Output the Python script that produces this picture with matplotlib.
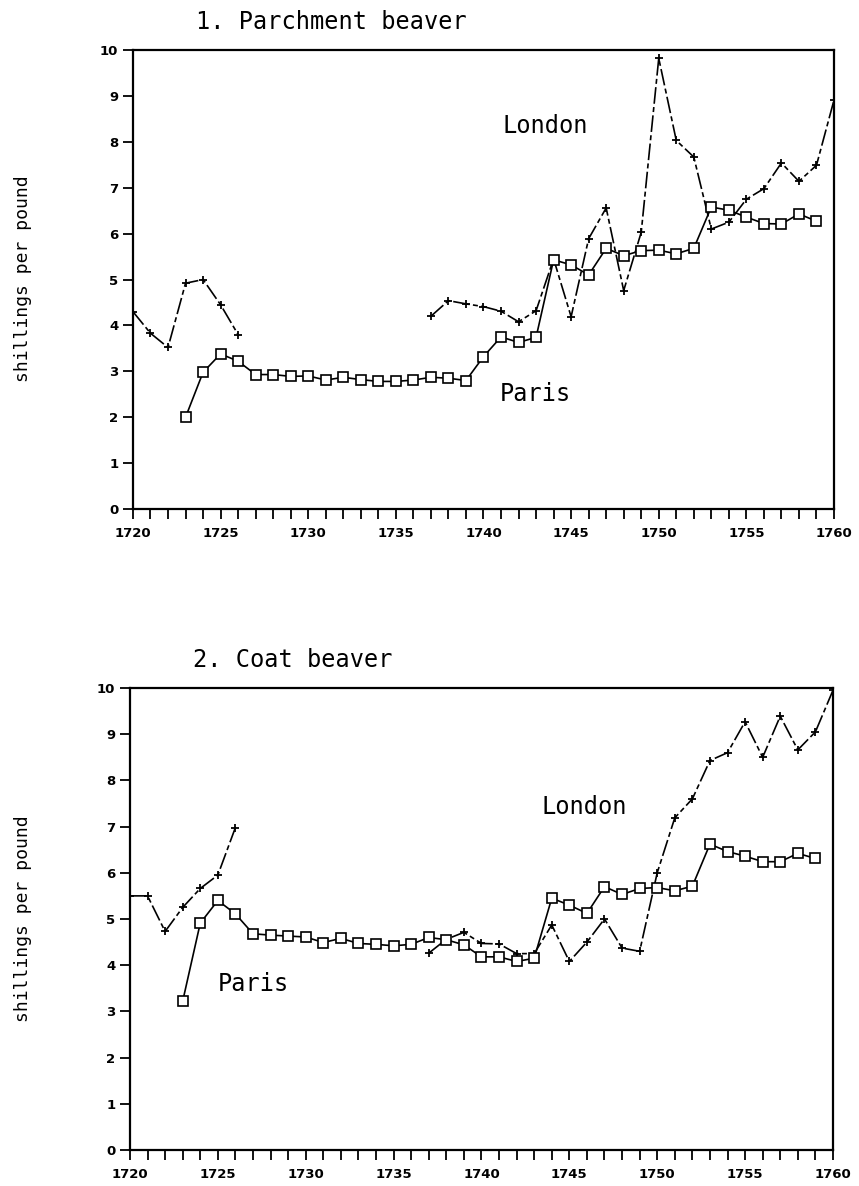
import matplotlib.pyplot as plt
import numpy as np

nan = np.nan
years = np.arange(1720, 1761)

# 1. Parchment beaver
parch_london = [4.3, 3.83, 3.52, 4.92, 5.0, 4.45, 3.8,
                nan, nan, nan, nan, nan, nan, nan, nan, nan, nan,
                4.2, 4.54, 4.47, 4.41, 4.31, 4.08, 4.32, 5.45, 4.19, 5.89, 6.56, 4.76, 6.03,
                9.82, 8.03, 7.67, 6.1, 6.25, 6.75, 6.98, 7.54, 7.14, 7.49, 8.91]
parch_paris = [nan, nan, nan, 2.0, 2.98, 3.38, 3.22, 2.93, 2.93, 2.89, 2.9, 2.81, 2.87, 2.82,
               2.78, 2.78, 2.81, 2.87, 2.85, 2.8, 3.32, 3.75, 3.63, 3.74, 5.43, 5.32, 5.1,
               5.68, 5.52, 5.63, 5.64, 5.56, 5.68, 6.58, 6.51, 6.36, 6.22, 6.21, 6.43, 6.27, nan]

# 2. Coat beaver
coat_london = [5.5, 5.5, 4.73, 5.25, 5.66, 5.95, 6.98,
               nan, nan, nan, nan, nan, nan, nan, nan, nan, nan,
               4.26, 4.56, 4.71, 4.47, 4.46, 4.25, 4.25, 4.87, 4.08, 4.5, 5.0, 4.37, 4.3,
               6.0, 7.19, 7.6, 8.43, 8.6, 9.27, 8.5, 9.39, 8.66, 9.05, 9.95]
coat_paris = [nan, nan, nan, 3.22, 4.91, 5.4, 5.11, 4.68, 4.65, 4.63, 4.61, 4.49, 4.58, 4.47,
              4.45, 4.42, 4.45, 4.6, 4.55, 4.44, 4.18, 4.18, 4.08, 4.15, 5.45, 5.3, 5.12,
              5.7, 5.53, 5.66, 5.68, 5.61, 5.71, 6.62, 6.46, 6.36, 6.24, 6.24, 6.42, 6.31, nan]

mono = "DejaVu Sans Mono"


def draw_panel(ax, london, paris, title, london_pos, paris_pos):
    ax.plot(years, london, color="black", lw=1.2, ls=(0, (10, 2, 3, 2)),
            marker="+", ms=6, mew=1.3)
    ax.plot(years, paris, color="black", lw=1.2, ls="-",
            marker="s", ms=6.5, mfc="white", mew=1.2)
    ax.set_xlim(1720, 1760)
    ax.set_ylim(0, 10)
    ax.set_xticks(range(1720, 1761, 5))
    ax.set_xticks(range(1720, 1761), minor=True)
    ax.set_yticks(range(0, 11))
    ax.tick_params(which="both", direction="out", length=7, width=1.3)
    ax.tick_params(axis="x", pad=6)
    for lab in ax.get_xticklabels() + ax.get_yticklabels():
        lab.set_fontweight("bold")
        lab.set_fontsize(9.5)
    for sp in ax.spines.values():
        sp.set_linewidth(1.6)
    ax.text(london_pos[0], london_pos[1], "London", family=mono, fontsize=17, va="center")
    ax.text(paris_pos[0], paris_pos[1], "Paris", family=mono, fontsize=17, va="center")
    ax.text(0.09, 1.035, title, transform=ax.transAxes, family=mono, fontsize=17, va="bottom")


fig = plt.figure(figsize=(8.59, 11.86), dpi=100)
ax1 = fig.add_axes([0.1548, 0.5708, 0.8161, 0.387])
ax2 = fig.add_axes([0.1513, 0.0304, 0.8184, 0.3895])

draw_panel(ax1, parch_london, parch_paris, "1. Parchment beaver", (1741.1, 8.35), (1740.9, 2.5))
draw_panel(ax2, coat_london, coat_paris, "2. Coat beaver", (1743.4, 7.43), (1725.0, 3.6))

fig.text(0.027, 0.765, "shillings per pound", rotation=90, family=mono, fontsize=13,
         ha="center", va="center")
fig.text(0.027, 0.225, "shillings per pound", rotation=90, family=mono, fontsize=13,
         ha="center", va="center")

fig.savefig("out.png", dpi=100)
